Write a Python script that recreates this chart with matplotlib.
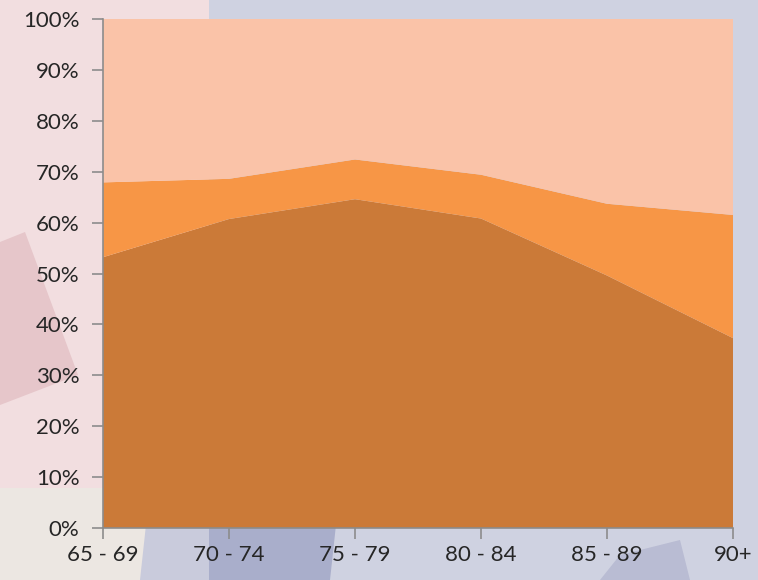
import numpy as np
import matplotlib.pyplot as plt
from matplotlib.patches import Polygon

# -- data (shares in %, stacked to 100)
age_groups = ['65 - 69', '70 - 74', '75 - 79', '80 - 84', '85 - 89', '90+']
bottom_share = [53.2, 60.7, 64.6, 60.8, 49.6, 37.3]
middle_share = [14.7, 7.9, 7.8, 8.6, 14.1, 24.2]
top_share = [100 - b - m for b, m in zip(bottom_share, middle_share)]

colors = ['#cb7a38', '#f79646', '#fac3a8']

W, H = 758, 580
fig = plt.figure(figsize=(W / 100, H / 100), dpi=100)
fig.patch.set_facecolor('#cfd2e1')


def px_poly(pts, color):
    # background shapes given in pixel coords (top-left origin)
    xy = [(x / W, 1 - y / H) for x, y in pts]
    fig.patches.append(Polygon(xy, closed=True, transform=fig.transFigure,
                               facecolor=color, edgecolor='none', zorder=-10))


# -- slide background decoration
px_poly([(0, 0), (209, 0), (209, 488), (0, 488)], '#f2dee0')
px_poly([(0, 242), (25, 232), (78, 375), (0, 405)], '#e6c6ca')
px_poly([(0, 488), (150, 488), (145, 580), (0, 580)], '#ece7e2')
px_poly([(150, 488), (209, 488), (209, 580), (140, 580)], '#c9cbdc')
px_poly([(209, 488), (340, 488), (330, 580), (209, 580)], '#a9aecb')
px_poly([(620, 555), (680, 540), (690, 580), (600, 580)], '#b9bcd3')

ax = fig.add_axes([103 / W, 1 - 528 / H, 630 / W, 509 / H])
ax.set_facecolor('none')

x = np.arange(len(age_groups))
ax.stackplot(x, bottom_share, middle_share, top_share, colors=colors,
             linewidth=0)

ax.set_xlim(0, len(age_groups) - 1)
ax.set_ylim(0, 100)
ax.set_xticks(x)
ax.set_xticklabels(age_groups)
ax.set_yticks(np.arange(0, 101, 10))
ax.set_yticklabels([f'{v}%' for v in range(0, 101, 10)])

for side in ['top', 'right']:
    ax.spines[side].set_visible(False)
for side in ['left', 'bottom']:
    ax.spines[side].set_color('#8c8c8c')
    ax.spines[side].set_linewidth(1.2)

ax.tick_params(axis='both', colors='#8c8c8c', length=8, width=1.2,
               labelcolor='#262626', labelsize=16)
ax.tick_params(axis='y', pad=9)
ax.tick_params(axis='x', pad=4)
for lab in ax.get_xticklabels() + ax.get_yticklabels():
    lab.set_fontfamily('Lato')

fig.savefig('out.png', dpi=100)
